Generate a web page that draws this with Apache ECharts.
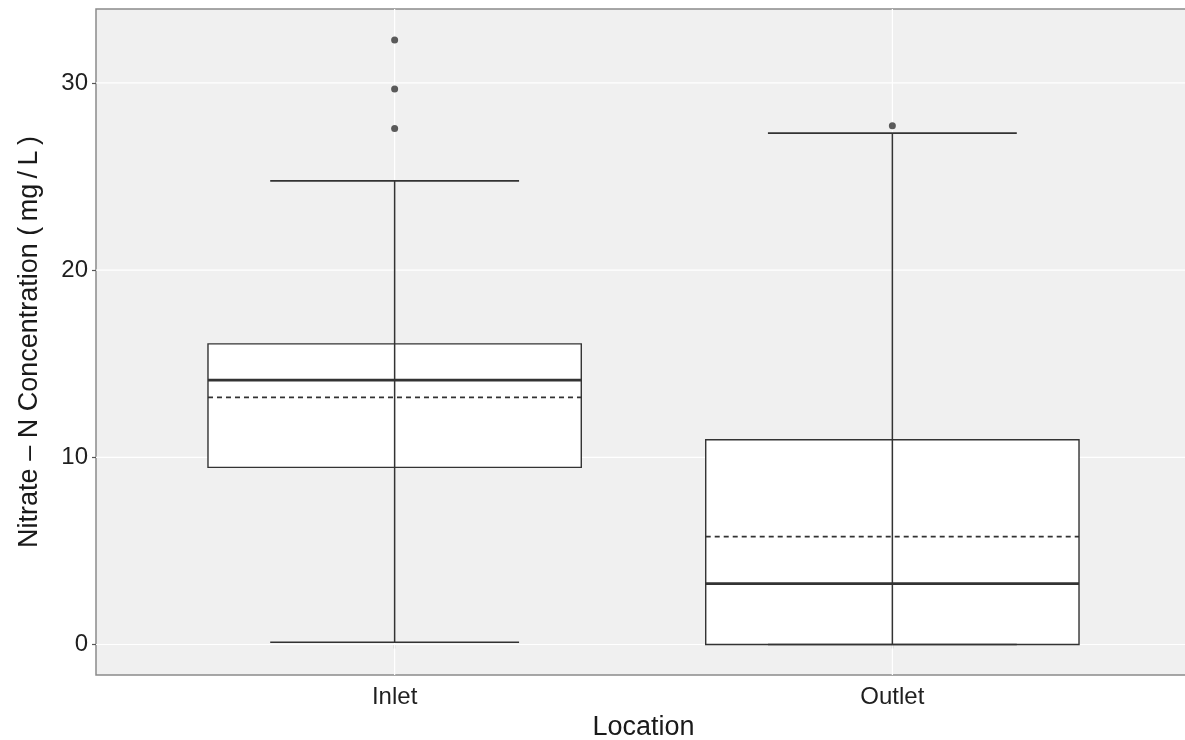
<!DOCTYPE html>
<html>
<head>
<meta charset="utf-8">
<script src="https://cdn.jsdelivr.net/npm/echarts@6/dist/echarts.min.js"></script>
<style>
html,body{margin:0;padding:0;background:#fff;}
#chart{width:1185px;height:740px;}
</style>
</head>
<body>
<div id="chart"></div>
<script>
// ---- data ----
const categories = ['Inlet', 'Outlet'];
const lowerWhisker = [0.12, 0.0];
const q1 = [9.46, 0.0];
const median = [14.12, 3.25];
const q3 = [16.06, 10.94];
const upperWhisker = [24.77, 27.32];
const means = [13.2, 5.76];
const inletOutliers = [32.30, 29.67, 27.57];
const outletOutliers = [27.71];
const yTicks = [0, 10, 20, 30];
const xTicks = [1, 2];

const FONT = "'Liberation Sans', Arial, Helvetica, sans-serif";
const INK = '#333333';

const boxData = categories.map((c, i) => [i + 1, lowerWhisker[i], q1[i], median[i], q3[i], upperWhisker[i], means[i]]);
const outlierData = [];
inletOutliers.forEach(v => outlierData.push([1, v]));
outletOutliers.forEach(v => outlierData.push([2, v]));

const chart = echarts.init(document.getElementById('chart'), null, {renderer: 'canvas'});

const option = {
  animation: false,
  backgroundColor: '#ffffff',
  grid: {
    left: 96, top: 9, width: 1095, bottom: 65,
    containLabel: false, outerBoundsMode: 'none',
    show: true, backgroundColor: '#F0F0F0', borderColor: '#8a8a8a', borderWidth: 1.5
  },
  xAxis: {
    type: 'value', min: 0.4, max: 2.6,
    name: 'Location', nameLocation: 'middle', nameGap: 35,
    nameTextStyle: {fontFamily: FONT, fontSize: 27, color: '#1a1a1a'},
    axisLine: {show: false},
    axisTick: {show: true, customValues: xTicks, length: 4, lineStyle: {color: '#555', width: 1.2}},
    axisLabel: {customValues: xTicks, formatter: v => categories[Math.round(v) - 1] || '',
      fontFamily: FONT, fontSize: 24, color: '#1f1f1f', margin: 10},
    splitLine: {show: false}
  },
  yAxis: {
    type: 'value', min: -1.63, max: 33.95,
    name: 'Nitrate \u2013 N Concentration (\u2009mg\u2009/\u2009L\u2009)', nameLocation: 'middle', nameGap: 53,
    nameRotate: 90,
    nameTextStyle: {fontFamily: FONT, fontSize: 27, color: '#1a1a1a'},
    axisLine: {show: false},
    axisTick: {show: true, customValues: yTicks, length: 4, lineStyle: {color: '#555', width: 1.2}},
    axisLabel: {customValues: yTicks, fontFamily: FONT, fontSize: 24, color: '#1f1f1f', margin: 8},
    splitLine: {show: false}
  },
  series: [
    {
      // panel grid lines (white)
      type: 'custom', silent: true, z: 1,
      data: [0],
      renderItem: function (params, api) {
        const cs = params.coordSys;
        const children = [];
        yTicks.forEach(t => {
          const y = api.coord([1, t])[1];
          children.push({type: 'line', shape: {x1: cs.x, y1: y, x2: cs.x + cs.width, y2: y},
            style: {stroke: '#ffffff', lineWidth: 1.2}});
        });
        xTicks.forEach(t => {
          const x = api.coord([t, 0])[0];
          children.push({type: 'line', shape: {x1: x, y1: cs.y, x2: x, y2: cs.y + cs.height},
            style: {stroke: '#ffffff', lineWidth: 1.2}});
        });
        return {type: 'group', children: children};
      }
    },
    {
      type: 'custom', z: 2,
      data: boxData,
      encode: {x: 0, y: [1, 2, 3, 4, 5]},
      renderItem: function (params, api) {
        const x = api.value(0);
        const lo = api.value(1), b1 = api.value(2), md = api.value(3), b3 = api.value(4), hi = api.value(5), mn = api.value(6);
        const bw = 0.375, cw = 0.25;
        const pTL = api.coord([x - bw, b3]);
        const pBR = api.coord([x + bw, b1]);
        const pMedL = api.coord([x - bw, md]);
        const pMedR = api.coord([x + bw, md]);
        const pMeanL = api.coord([x - bw, mn]);
        const pMeanR = api.coord([x + bw, mn]);
        const pLo = api.coord([x, lo]);
        const pHi = api.coord([x, hi]);
        const cL = api.coord([x - cw, 0])[0];
        const cR = api.coord([x + cw, 0])[0];
        return {
          type: 'group',
          children: [
            {type: 'rect', shape: {x: pTL[0], y: pTL[1], width: pBR[0] - pTL[0], height: pBR[1] - pTL[1]},
              style: {fill: '#ffffff', stroke: INK, lineWidth: 1.4}},
            {type: 'line', shape: {x1: pMedL[0], y1: pMedL[1], x2: pMedR[0], y2: pMedR[1]},
              style: {stroke: INK, lineWidth: 2.8}},
            {type: 'line', shape: {x1: pLo[0], y1: pLo[1], x2: pHi[0], y2: pHi[1]},
              style: {stroke: INK, lineWidth: 1.5}},
            {type: 'line', shape: {x1: cL, y1: pHi[1], x2: cR, y2: pHi[1]},
              style: {stroke: INK, lineWidth: 1.6}},
            {type: 'line', shape: {x1: cL, y1: pLo[1], x2: cR, y2: pLo[1]},
              style: {stroke: INK, lineWidth: 1.6}},
            {type: 'line', shape: {x1: pMeanL[0], y1: pMeanL[1], x2: pMeanR[0], y2: pMeanR[1]},
              style: {stroke: INK, lineWidth: 1.6, lineDash: [5, 4]}}
          ]
        };
      }
    },
    {
      type: 'scatter', z: 3,
      data: outlierData,
      symbol: 'circle', symbolSize: 7,
      itemStyle: {color: INK}
    }
  ]
};
chart.setOption(option);
</script>
</body>
</html>
